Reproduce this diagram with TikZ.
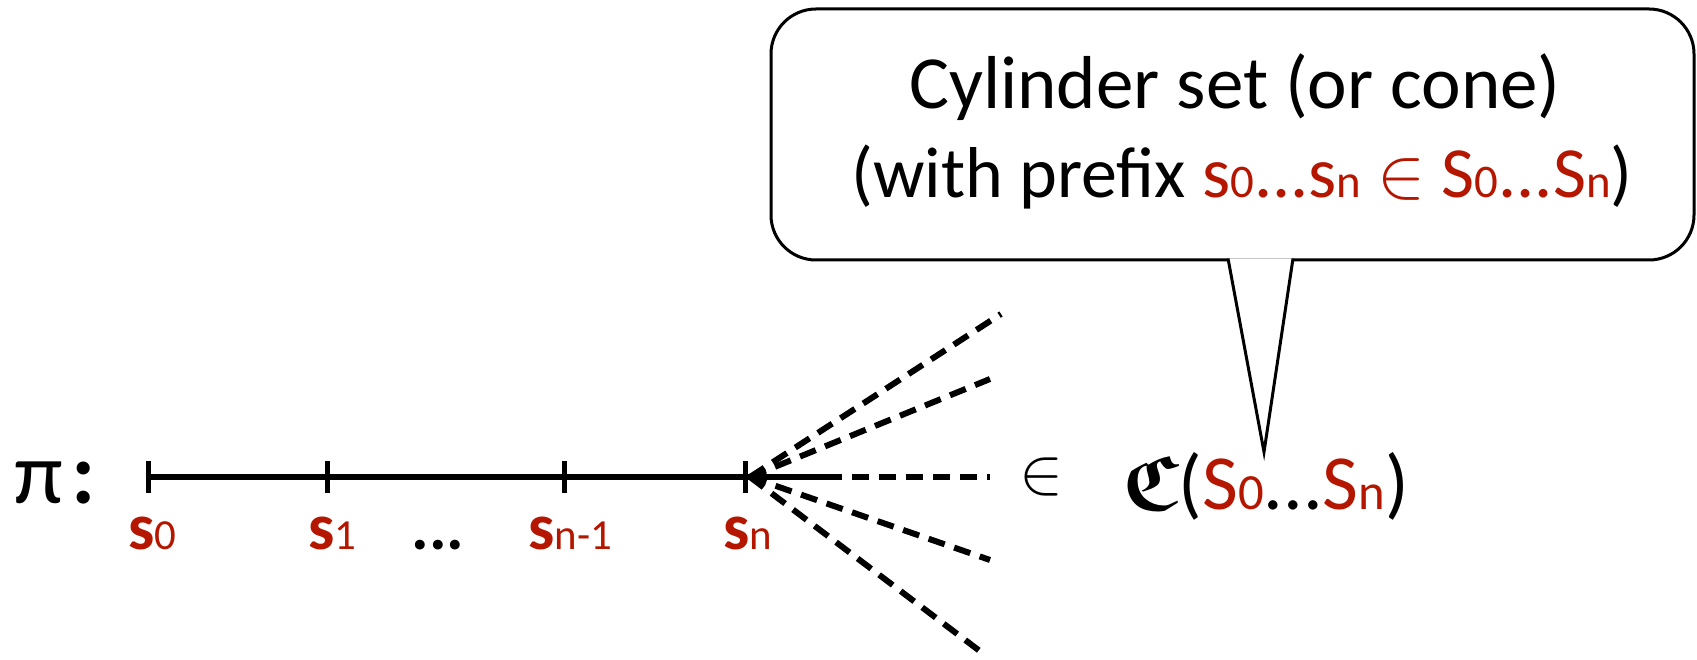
\documentclass[tikz,border=0pt]{standalone}
\usepackage{fix-cm}
\usepackage{amsmath, amssymb}
\usepackage{fontspec}
\setmainfont{Carlito}
\usetikzlibrary{calc}
\definecolor{statered}{RGB}{180,22,0}
\makeatletter
\newcommand{\ssub}[1]{{\fontsize{\fpeval{0.65*\f@size}}{0}\selectfont #1}}
\makeatother
\newcommand{\st}[1]{\textcolor{statered}{\textbf{s}\ssub{#1}}}
\newcommand{\red}[1]{\textcolor{statered}{#1}}

\begin{document}
\begin{tikzpicture}[x=1pt, y=1pt,
  every node/.style={inner sep=0pt},
  path/.style={line width=5.5pt},
  tick/.style={line width=5pt},
  branch/.style={line width=6pt, dash pattern=on 17pt off 10pt},
  bubble/.style={line width=3pt, rounded corners=45pt, fill=white},
  lbl/.style={anchor=base west, font=\fontsize{66}{66}\selectfont}]
\useasboundingbox (0,0) rectangle (1697,660);

% the path pi
\node[anchor=base west, font=\fontsize{88}{88}\selectfont] (pi) at (14,156) {π\hspace{9pt}\textbf{:}};
\coordinate (t0) at (148,183);
\coordinate (t1) at (327,183);
\coordinate (t2) at (564,183);
\coordinate (t3) at (745,183);
\coordinate (tend) at (825,183);
\draw[path] (t0) -- (tend);
\foreach \t in {t0,t1,t2,t3}
  \draw[tick] ($(\t)+(0,16)$) -- ($(\t)+(0,-16)$);

\node[lbl] (s0) at (128,110) {\st{0}};
\node[lbl] (s1) at (308,110) {\st{1}};
\node[lbl, anchor=base] (dots) at (438,110) {\textbf{...}};
\node[lbl] (sn1) at (528,110) {\st{n-1}};
\node[lbl] (sn) at (723,110) {\st{n}};

% continuations
\coordinate (fan) at (750,183);
\coordinate (e1) at (1001,346);
\coordinate (e2) at (990,281);
\coordinate (e3) at (990,183);
\coordinate (e4) at (990,100);
\coordinate (e5) at (985,5);
\draw[branch] (fan) -- (e1);
\draw[branch] (fan) -- (e2);
\draw[branch] (tend) -- (e3);
\draw[branch] (fan) -- (e4);
\draw[branch] (fan) -- (e5);

\node (in) at (1041,183) {\fontsize{66}{66}\selectfont$\in$};
\node[anchor=base west, font=\fontsize{78}{78}\selectfont] (cyl) at (1122,150)
  {$\boldsymbol{\mathfrak{C}}$(\red{S\ssub{0}}...\red{S\ssub{n}})};

% callout
\draw[bubble] (771,400) rectangle (1694,651);
\coordinate (b1) at (1228,400);
\coordinate (b2) at (1293,400);
\coordinate (tip) at (1264,208);
\draw[line width=3pt, fill=white] ($(b1)+(0,1.5)$) -- (tip) -- ($(b2)+(0,1.5)$);
\node[anchor=base, font=\fontsize{75}{75}\selectfont] (l1) at (1235,551) {Cylinder set (or cone)};
\node[anchor=base, font=\fontsize{72}{72}\selectfont] (l2) at (1242,462)
  {(with prefix \red{s\ssub{0}...s\ssub{n} $\in$ S\ssub{0}...S\ssub{n}})};
\end{tikzpicture}
\end{document}
